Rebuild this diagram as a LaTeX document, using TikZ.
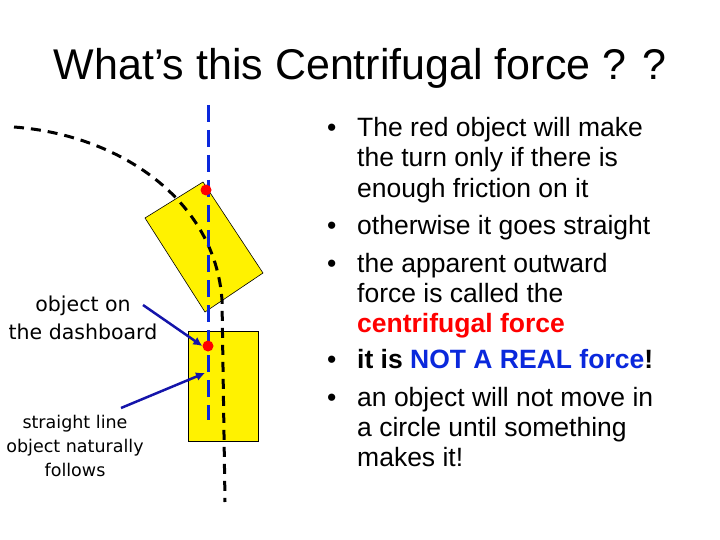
\documentclass[tikz,border=0pt]{standalone}
\usepackage{fontspec}
\setmainfont{Liberation Sans}
\newfontfamily\verd{DejaVu Sans}
\usetikzlibrary{arrows.meta}
\definecolor{fblue}{RGB}{10,40,220}
\definecolor{dblue}{RGB}{20,20,170}
\begin{document}
\begin{tikzpicture}[x=1pt,y=-1pt,
  box/.style={fill=yellow,draw=black,line width=0.6pt},
  dot/.style={circle,fill=red,inner sep=0pt,minimum size=11pt},
  lab/.style={align=center, inner sep=0pt},
  arr/.style={draw=dblue,line width=2.5pt,-{Latex[length=9pt,width=9pt]}},
  ln/.style={anchor=base west, inner sep=0pt, font=\fontsize{26.5}{30}\selectfont},
  bu/.style={anchor=base west, inner sep=0pt, font=\fontsize{26.5}{30}\selectfont}]
\useasboundingbox (0,0) rectangle (720,540);
\node (title) at (360,68) {\fontsize{43}{48}\selectfont What’s this Centrifugal force ? ?};
\draw[box] (203,182) -- (263,273) -- (205,312) -- (145,218) -- cycle;
\node[box,minimum width=70pt,minimum height=110pt,inner sep=0pt] (rect) at (223,386) {};
\draw[line width=3pt,dash pattern=on 10pt off 7pt] (14,127) .. controls (120,135) and (215,200) .. (222,300) -- (225,502);
\draw[fblue,line width=3pt,dash pattern=on 17pt off 8pt] (208,105) -- (208,420);
\node[dot] (d1) at (206,190) {};
\node[dot] (d2) at (208,346) {};
\node[lab,font=\verd\fontsize{20.5}{28}\selectfont] (l1) at (83,318) {object on\\the dashboard};
\node[lab,font=\verd\fontsize{17.5}{24}\selectfont] (l2) at (75,446) {straight line\\object naturally\\follows};
\coordinate (a1) at (143,305);
\coordinate (a2) at (121,408);
\coordinate (t2) at (205,373);
\draw[arr] (a1) -- (d2.west);
\draw[arr] (a2) -- (t2);
\foreach \y in {137,235,272,368,406} \node[bu] at (327,\y) {•};
\node[ln] (t1) at (357,137) {The red object will make};
\node[ln] (t2b) at (357,167) {the turn only if there is};
\node[ln] (t3) at (357,197) {enough friction on it};
\node[ln] (t4) at (357,235) {otherwise it goes straight};
\node[ln] (t5) at (357,272) {the apparent outward};
\node[ln] (t6) at (357,302) {force is called the};
\node[ln] (t7) at (357,332) {\textcolor{red}{\textbf{centrifugal force}}};
\node[ln] (t8) at (357,368) {\textbf{it is \textcolor{fblue}{NOT A REAL force}!}};
\node[ln] (t9) at (357,406) {an object will not move in};
\node[ln] (t10) at (357,436) {a circle until something};
\node[ln] (t11) at (357,466) {makes it!};
\end{tikzpicture}
\end{document}
